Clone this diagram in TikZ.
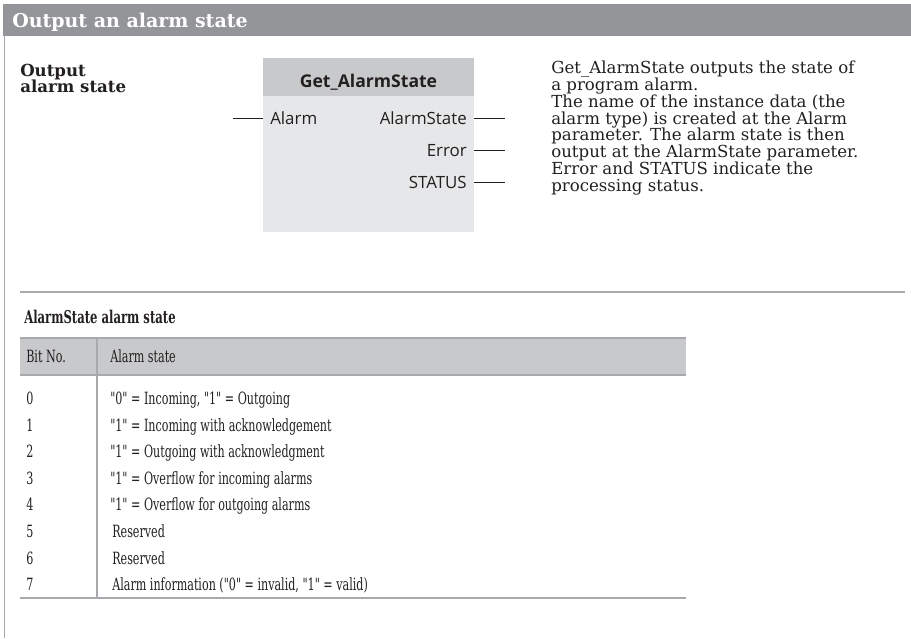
\documentclass[tikz,border=0pt]{standalone}
\usepackage{fontspec}
\setmainfont{DejaVu Serif}
\newfontfamily\tabfont[FakeStretch=0.66]{DejaVu Serif}
\newfontfamily\blkfont{Open Sans}
\usetikzlibrary{positioning,fit}
\definecolor{ink}{HTML}{231F20}
\definecolor{bar}{HTML}{939598}
\definecolor{hdgray}{HTML}{C8C9CB}
\definecolor{soft}{HTML}{E6E7E8}
\definecolor{rulegray}{HTML}{A7A9AC}
\tikzset{
  txt/.style={inner sep=0pt, text=ink},
  title/.style={txt, text=white, font=\fontsize{13.5}{15}\selectfont\bfseries},
  head/.style={txt, align=left, font=\fontsize{11.8}{11.6}\selectfont\bfseries},
  desc/.style={txt, align=left, font=\fontsize{11.8}{11.9}\selectfont},
  blkbody/.style={fill=soft, inner sep=0pt},
  blkhead/.style={fill=hdgray, inner sep=0pt},
  pinlabel/.style={txt, font=\blkfont\fontsize{12}{14}\selectfont},
  blktitle/.style={txt, font=\blkfont\fontsize{12.5}{14}\selectfont\bfseries},
  pin/.style={draw=ink, line width=0.6pt},
  rule/.style={draw=rulegray, line width=0.8pt},
  sub/.style={txt, font=\tabfont\fontsize{12.5}{14}\selectfont\bfseries},
  cell/.style={txt, font=\tabfont\fontsize{12}{14}\selectfont},
}
\newcommand{\rowy}[1]{404.5+26.6*#1}

\begin{document}
\begin{tikzpicture}[x=0.025cm, y=-0.025cm]
        \useasboundingbox (0,0) rectangle (911,638);
        \fill[bar] (3,4) rectangle (911,36);
        \draw[rule] (4.5,36) -- (4.5,638);
        \node[title, anchor=base west] (ttl) at (12,27) {Output an alarm state};
        \node[head, anchor=north west] (lbl) at (20,64) {Output\\alarm state};
        \coordinate (b1) at (263,58);
        \coordinate (b2) at (474,232);
        \coordinate (b3) at (474,96);
        \node[blkbody, fit=(b1)(b2)] (blk) {};
        \node[blkhead, fit=(b1)(b3)] (blkhd) {};
        \node[blktitle, anchor=base] (fb) at (368.5,87) {Get\_AlarmState};
        \node[pinlabel, anchor=base west] (pAlarm) at (270,124) {Alarm};
        \node[pinlabel, anchor=base east] (pState) at (467,124) {AlarmState};
        \node[pinlabel, anchor=base east] (pErr) at (467,156) {Error};
        \node[pinlabel, anchor=base east] (pStat) at (467,188) {STATUS};
        \coordinate (inA) at (233,118);
        \coordinate (outA) at (505,118);
        \coordinate (outE) at (505,150);
        \coordinate (outS) at (505,182);
        \draw[pin] (inA) -- (inA -| blk.west);
        \draw[pin] (outA -| blk.east) -- (outA);
        \draw[pin] (outE -| blk.east) -- (outE);
        \draw[pin] (outS -| blk.east) -- (outS);
        \node[desc, anchor=north west] (info) at (551,61) {Get\_AlarmState outputs the state of\\a program alarm.\\The name of the instance data (the\\alarm type) is created at the Alarm\\parameter. The alarm state is then\\output at the AlarmState parameter.\\Error and STATUS indicate the\\processing status.};
        \draw[rule] (20,292) -- (905,292);
        \node[sub, anchor=base west] (tabttl) at (24,323.5) {AlarmState alarm state};
        \fill[hdgray] (20,338) rectangle (686,375);
        \draw[rule] (20,338) -- (686,338);
        \draw[rule] (20,375) -- (686,375);
        \draw[rule] (97,338) -- (97,598);
        \draw[rule] (20,598) -- (686,598);
        \node[cell, anchor=base west] (hbit) at (26,362) {Bit No.};
        \node[cell, anchor=base west] (hst) at (110,362) {Alarm state};
        \foreach \i/\dx/\s in {0/0/{"0" = Incoming, "1" = Outgoing},
            1/0/{"1" = Incoming with acknowledgement},
            2/0/{"1" = Outgoing with acknowledgment},
            3/0/{"1" = Overflow for incoming alarms},
            4/0/{"1" = Overflow for outgoing alarms},
            5/2/{Reserved}, 6/2/{Reserved},
            7/2/{Alarm information ("0" = invalid, "1" = valid)}} {
          \node[cell, anchor=base west] (bit\i) at (26,\rowy{\i}) {\i};
          \node[cell, anchor=base west] (st\i) at (110+\dx,\rowy{\i}) {\s};
        }
      \end{tikzpicture}
\end{document}
